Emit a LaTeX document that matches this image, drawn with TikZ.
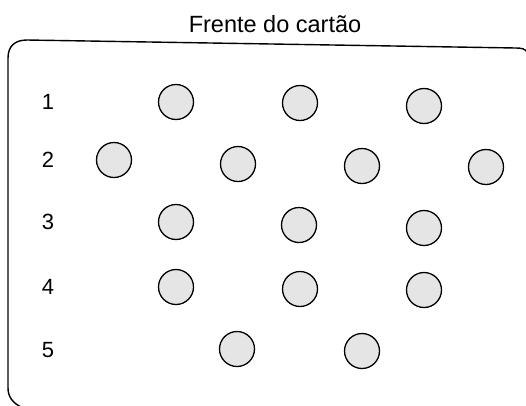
\documentclass[tikz,border=0pt]{standalone}
\usepackage{fontspec}
\setmainfont{Liberation Sans}
\begin{document}
\begin{tikzpicture}[x=1pt,y=-1pt,
  dot/.style={circle,draw=black,line width=1.3pt,fill=black!10,minimum size=35pt,inner sep=0pt},
  rowlabel/.style={font=\fontsize{22}{22}\selectfont,inner sep=0pt,anchor=center},
  title/.style={font=\fontsize{23.5}{23.5}\selectfont,inner sep=0pt,anchor=base},
  frame/.style={line width=1.4pt,line cap=round}]
\useasboundingbox (0,0) rectangle (526,405);
\node[title] (t) at (275,32) {Frente do cartão};
\draw[frame] (527,52) .. controls (525,49) and (522,48) .. (516,48) -- (27,40)
  .. controls (15,40) and (8,46) .. (8,58) -- (8,388)
  .. controls (8,397) and (13,403) .. (21,407);
% row labels
\node[rowlabel] (l1) at (48,102) {1};
\node[rowlabel] (l2) at (48,160) {2};
\node[rowlabel] (l3) at (48,222) {3};
\node[rowlabel] (l4) at (48,287) {4};
\node[rowlabel] (l5) at (48,350) {5};
% row 1
\node[dot] (a1) at (176,102) {};
\node[dot] (a2) at (300,103) {};
\node[dot] (a3) at (424,106) {};
% row 2
\node[dot] (b1) at (114,160) {};
\node[dot] (b2) at (238,164) {};
\node[dot] (b3) at (362,166) {};
\node[dot] (b4) at (486,167) {};
% row 3
\node[dot] (c1) at (176,222) {};
\node[dot] (c2) at (299,225) {};
\node[dot] (c3) at (424,228) {};
% row 4
\node[dot] (d1) at (176,287) {};
\node[dot] (d2) at (300,289) {};
\node[dot] (d3) at (424,290) {};
% row 5
\node[dot] (e1) at (237,349) {};
\node[dot] (e2) at (362,351) {};
\end{tikzpicture}
\end{document}
